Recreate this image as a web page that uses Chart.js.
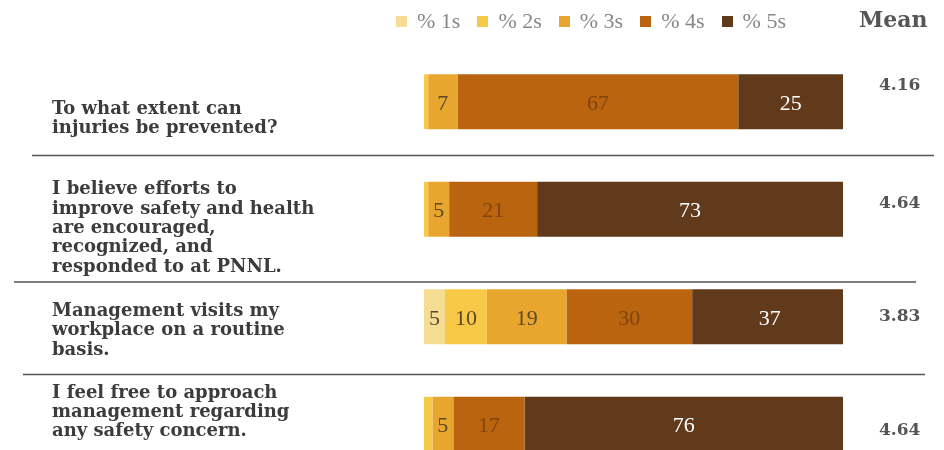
<!DOCTYPE html>
<html>
<head>
<meta charset="utf-8">
<script src="https://cdn.jsdelivr.net/npm/chart.js@4"></script>
<style>
  html, body { margin: 0; padding: 0; background: #fff; overflow: hidden; }
  #wrap { position: relative; width: 944px; height: 480px; }
  #legend { position: absolute; left: 396px; top: 8px; display: flex; align-items: center;
            font-family: 'Liberation Serif', serif; font-size: 22px; color: #888; }
  .item { display: flex; align-items: center; margin-right: 17px; }
  .box { width: 11px; height: 11px; margin-right: 10px; }
  #mean { position: absolute; left: 859px; top: 6px; font-family: 'DejaVu Serif', serif;
          font-weight: bold; font-size: 22px; color: #555; }
</style>
</head>
<body>
<div id="wrap">
  <canvas id="chart" width="944" height="480"></canvas>
  <div id="legend"></div>
  <div id="mean">Mean</div>
</div>
<script>
const questions = [
  ['To what extent can', 'injuries be prevented?'],
  ['I believe efforts to', 'improve safety and health', 'are encouraged,', 'recognized, and', 'responded to at PNNL.'],
  ['Management visits my', 'workplace on a routine', 'basis.'],
  ['I feel free to approach', 'management regarding', 'any safety concern.']
];
const means = ['4.16', '4.64', '3.83', '4.64'];
const seriesLabels = ['% 1s', '% 2s', '% 3s', '% 4s', '% 5s'];
const pct1s = [0, 0, 5, 0];
const pct2s = [1, 1, 10, 2];
const pct3s = [7, 5, 19, 5];
const pct4s = [67, 21, 30, 17];
const pct5s = [25, 73, 37, 76];

const colors = ['#f5dd93', '#f8c947', '#e9a62f', '#bb640f', '#613a1b'];
const textColors = ['#5b4828', '#5b4828', '#5b4828', '#7e450f', '#ffffff'];

// text is not exactly centred on the bars in the original slide
const labelShift = [17, 19, 14, -12];
const meanShift = [-16, -6, 0, 6];

// separator lines between questions
const sepShift = [0, 19, 4];
const sepLeft = [32, 14, 23];
const sepRight = [934, 916, 925];

// html legend
const legendEl = document.getElementById('legend');
seriesLabels.forEach((label, i) => {
  const item = document.createElement('div');
  item.className = 'item';
  item.innerHTML = `<span class="box" style="background:${colors[i]}"></span><span>${label}</span>`;
  legendEl.appendChild(item);
});

const valueLabels = {
  id: 'valueLabels',
  afterDatasetsDraw(chart) {
    const ctx = chart.ctx;
    ctx.save();
    ctx.font = '22px "Liberation Serif", serif';
    ctx.textAlign = 'center';
    ctx.textBaseline = 'middle';
    chart.data.datasets.forEach((ds, i) => {
      chart.getDatasetMeta(i).data.forEach((bar, j) => {
        const v = ds.data[j];
        if (v < 5) return;
        ctx.fillStyle = textColors[i];
        ctx.fillText(v, (bar.x + bar.base) / 2, bar.y + 2);
      });
    });
    ctx.restore();
  }
};

// question text on the left, mean score on the right, separators
const sideText = {
  id: 'sideText',
  afterDraw(chart) {
    const y = chart.scales.y;
    const area = chart.chartArea;
    const ctx = chart.ctx;
    ctx.save();
    ctx.textBaseline = 'middle';
    ctx.textAlign = 'left';
    const lh = 19.4;
    questions.forEach((lines, i) => {
      const cy = y.getPixelForValue(i) + labelShift[i];
      ctx.font = 'bold 18px "DejaVu Serif", serif';
      ctx.fillStyle = '#3c3c3c';
      lines.forEach((line, k) => {
        ctx.fillText(line, 52, cy + (k - (lines.length - 1) / 2) * lh);
      });
      ctx.font = 'bold 17px "DejaVu Serif", serif';
      ctx.fillStyle = '#555';
      ctx.fillText(means[i], area.right + 36, y.getPixelForValue(i) + meanShift[i]);
    });

    ctx.strokeStyle = '#555';
    ctx.lineWidth = 1.5;
    for (let i = 0; i < questions.length - 1; i++) {
      const py = (y.getPixelForValue(i) + y.getPixelForValue(i + 1)) / 2 + sepShift[i];
      ctx.beginPath();
      ctx.moveTo(sepLeft[i], py);
      ctx.lineTo(sepRight[i], py);
      ctx.stroke();
    }
    ctx.restore();
  }
};

const ds = [pct1s, pct2s, pct3s, pct4s, pct5s].map((data, i) => ({
  label: seriesLabels[i],
  data,
  backgroundColor: colors[i],
  borderWidth: 0,
  categoryPercentage: 1,
  barPercentage: 0.51
}));

new Chart(document.getElementById('chart'), {
  type: 'bar',
  data: { labels: questions, datasets: ds },
  options: {
    responsive: false,
    animation: false,
    indexAxis: 'y',
    layout: { padding: { top: 48, left: 424, right: 101, bottom: 2 } },
    scales: {
      x: { stacked: true, min: 0, max: 100, display: false },
      y: { stacked: true, display: false }
    },
    plugins: {
      legend: { display: false },
      tooltip: { enabled: false }
    }
  },
  plugins: [valueLabels, sideText]
});
</script>
</body>
</html>
